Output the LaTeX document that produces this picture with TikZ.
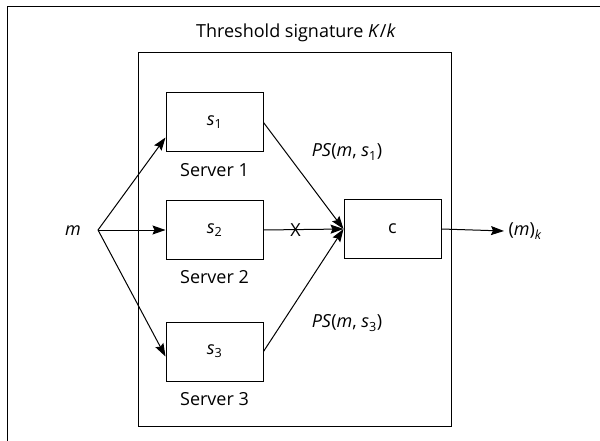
\documentclass[tikz,border=0pt]{standalone}
\usepackage{fontspec}
\setmainfont{Open Sans}
\usepackage{tikz}
\usetikzlibrary{arrows.meta}
\usetikzlibrary{positioning}
\usetikzlibrary{calc}

\begin{document}
\begin{tikzpicture}[x=1pt,y=-1pt,line width=1pt,
    >={Stealth[length=13pt,width=9pt,inset=2pt]},
    font=\fontsize{18}{20}\selectfont,
    server/.style={draw,minimum width=97pt,minimum height=59pt,inner sep=0pt},
    srvname/.style={inner sep=2pt}]
	\useasboundingbox (0,0) rectangle (600,441);
	\draw (600,7) -- (7,7) -- (7,441);

	\node (title) at (296,33) {Threshold signature \textit{K}/\textit{k}};
	\node[draw,minimum width=313pt,minimum height=373pt,inner sep=0pt] (group) at (294.5,239.5) {};

	\node (m) at (73,231) {\textit{m}};
	\coordinate (fork) at (98,230);

	\node[server] (s_1) at (214.5,122.5) {\textit{s}\textsubscript{1}};
	\node[server] (s_2) at (214.5,230) {\textit{s}\textsubscript{2}};
	\node[server] (s_3) at (214.5,351.5) {\textit{s}\textsubscript{3}};
	\node[server] (c) at (392.5,229) {c};

	\node[srvname,below=8pt of s_1] (n_1) {Server 1};
	\node[srvname,below=8pt of s_2] (n_2) {Server 2};
	\node[srvname,below=8pt of s_3] (n_3) {Server 3};

	\node (ps_1) at (347,152) {\textit{PS}(\textit{m}, \textit{s}\textsubscript{1})};
	\node (ps_3) at (347,323) {\textit{PS}(\textit{m}, \textit{s}\textsubscript{3})};

	\node[anchor=west,inner sep=4pt] (out) at (504,231) {(\textit{m})\textsubscript{\textit{k}}};

	\draw[->] (fork) -- ($(s_1.south west)+(0,-15)$);
	\draw[->] (fork) -- (s_2.west);
	\draw[->] (fork) -- ($(s_3.west)+(0,5)$);

	\draw[->] (s_1.east) -- (c.west);
	\draw[->] (s_2.east) -- node[pos=0.4,inner sep=0pt] {X} (c.west);
	\draw[->] (s_3.east) -- (c.west);

	\draw[->] (c.east) -- (out.west);
\end{tikzpicture}
\end{document}
